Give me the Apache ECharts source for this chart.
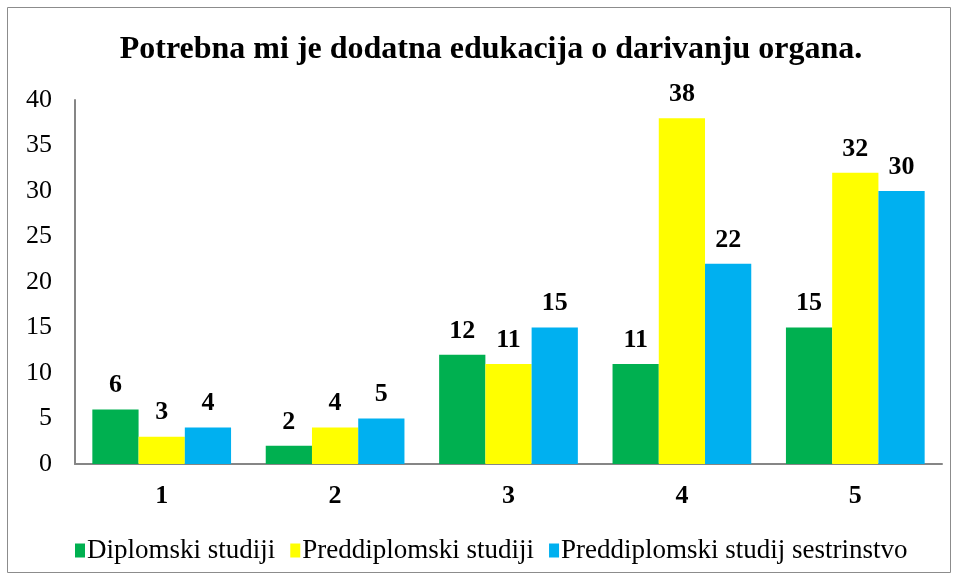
<!DOCTYPE html>
<html>
<head>
<meta charset="utf-8">
<script src="https://cdn.jsdelivr.net/npm/echarts@6/dist/echarts.min.js"></script>
<style>
  html, body { margin: 0; padding: 0; background: #fff; }
  #chart { width: 959px; height: 581px; }
</style>
</head>
<body>
<div id="chart"></div>
<script>
const categories = ["1", "2", "3", "4", "5"];
const seriesNames = ["Diplomski studiji", "Preddiplomski studiji", "Preddiplomski studij sestrinstvo"];
const diplomski = [6, 2, 12, 11, 15];
const preddiplomski = [3, 4, 11, 38, 32];
const sestrinstvo = [4, 5, 15, 22, 30];
const colors = ["#00B050", "#FFFF00", "#00B0F0"];

const FONT = "'Liberation Serif', 'Times New Roman', serif";

const chart = echarts.init(document.getElementById("chart"), null, { renderer: "canvas" });

function barSeries(name, data, color) {
  return {
    name,
    type: "bar",
    data,
    barGap: "0%",
    barCategoryGap: "20%",
    itemStyle: { color },
    label: {
      show: true,
      position: "top",
      distance: 11,
      fontFamily: FONT,
      fontWeight: "bold",
      fontSize: 26,
      color: "#000",
    },
  };
}

chart.setOption({
  animation: false,
  graphic: [
    {
      type: "rect",
      shape: { x: 7.5, y: 7.5, width: 943, height: 565 },
      style: { fill: "none", stroke: "#8c8c8c", lineWidth: 1 },
      z: -1,
    },
  ],
  title: {
    text: "Potrebna mi je dodatna edukacija o darivanju organa.",
    left: 486,
    textAlign: "center",
    top: 29,
    textStyle: {
      fontFamily: FONT,
      fontWeight: "bold",
      fontSize: 32,
      color: "#000",
    },
  },
  legend: {
    bottom: 12,
    left: 70,
    itemWidth: 10,
    itemHeight: 14,
    itemGap: 15,
    icon: "rect",
    textStyle: { fontFamily: FONT, fontSize: 27, color: "#000", padding: [0, 0, 0, -3] },
    data: seriesNames,
  },
  grid: {
    left: 75,
    right: 17,
    top: 100,
    bottom: 117,
  },
  xAxis: {
    type: "category",
    data: categories,
    axisLine: { lineStyle: { color: "#868686", width: 2 } },
    axisTick: { show: false },
    axisLabel: {
      fontFamily: FONT,
      fontWeight: "bold",
      fontSize: 26,
      color: "#000",
      margin: 19,
    },
  },
  yAxis: {
    type: "value",
    min: 0,
    max: 40,
    interval: 5,
    axisLine: { show: true, lineStyle: { color: "#868686", width: 2 } },
    axisTick: { show: false },
    splitLine: { show: false },
    axisLabel: {
      fontFamily: FONT,
      fontSize: 26,
      color: "#000",
      margin: 23,
    },
  },
  series: [
    barSeries(seriesNames[0], diplomski, colors[0]),
    barSeries(seriesNames[1], preddiplomski, colors[1]),
    barSeries(seriesNames[2], sestrinstvo, colors[2]),
  ],
});
</script>
</body>
</html>
